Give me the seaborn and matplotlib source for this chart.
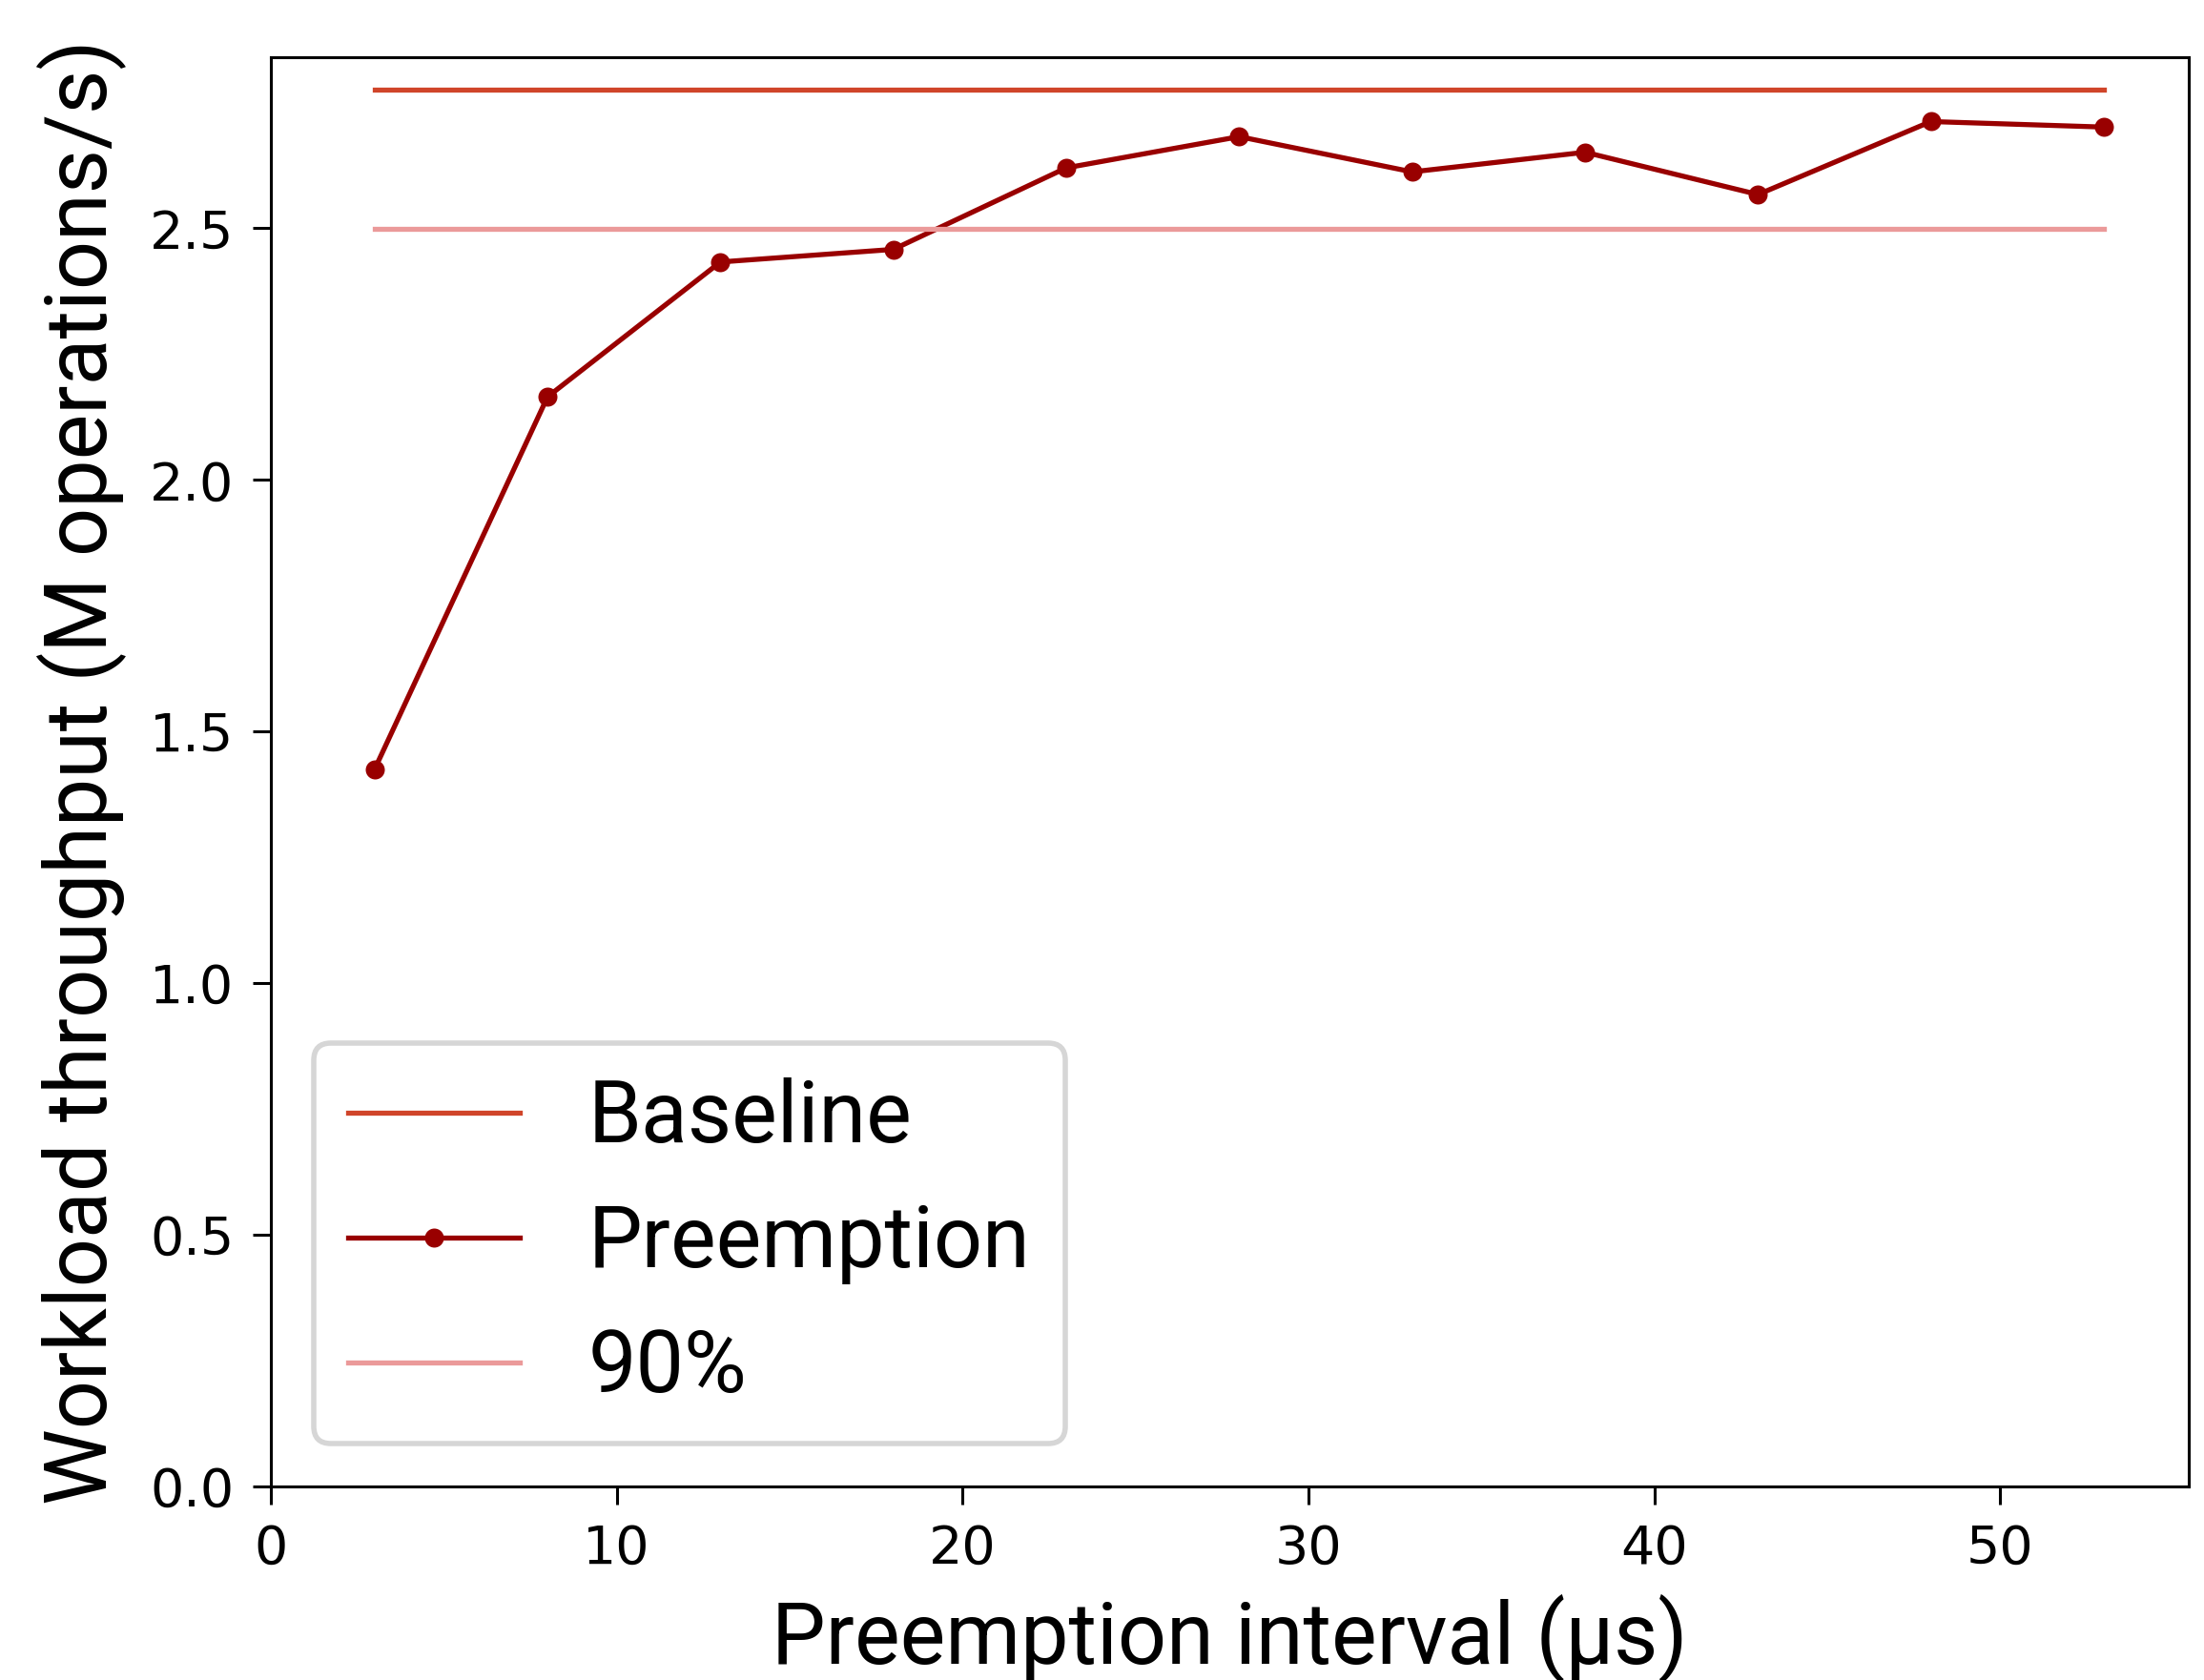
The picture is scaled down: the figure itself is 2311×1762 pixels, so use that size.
import numpy as np
import pandas as pd
import matplotlib
matplotlib.use("Agg")
import matplotlib.pyplot as plt
import seaborn as sns

# data
intervals = [3, 8, 13, 18, 23, 28, 33, 38, 43, 48, 53]
throughput = [1.425, 2.165, 2.433, 2.458, 2.620, 2.682, 2.612, 2.651, 2.567, 2.712, 2.701]
baseline = 2.776
ratio = 0.9

c_base = "#d0452a"
c_pre = "#990000"
c_90 = "#eb9a9a"

plt.rcParams["font.family"] = ["DejaVu Sans"]
plt.rcParams["axes.linewidth"] = 0.55
plt.rcParams["xtick.major.width"] = 0.55
plt.rcParams["ytick.major.width"] = 0.55

DPI = 400
fig = plt.figure(figsize=(2311 / DPI, 1762 / DPI), dpi=DPI)
ax = fig.add_axes([0.1229, 0.1152, 0.993 - 0.1229, 0.966 - 0.1152])

df = pd.DataFrame({"interval": intervals, "throughput": throughput})
ref = pd.DataFrame({
    "interval": [intervals[0], intervals[-1]],
    "base": [baseline, baseline],
    "ninety": [baseline * ratio, baseline * ratio],
})

sns.lineplot(data=ref, x="interval", y="base", ax=ax, color=c_base, lw=0.95, label="Baseline")
sns.lineplot(data=df, x="interval", y="throughput", ax=ax, color=c_pre, lw=0.95,
             marker="o", markersize=3.6, markeredgewidth=0, label="Preemption")
sns.lineplot(data=ref, x="interval", y="ninety", ax=ax, color=c_90, lw=0.95, label="90%")

ax.set_xlim(0, 55.45)
ax.set_ylim(0, 2.84)
ax.set_xticks([0, 10, 20, 30, 40, 50])
ax.set_yticks([0.0, 0.5, 1.0, 1.5, 2.0, 2.5])
ax.tick_params(labelsize=10)

ax.set_xlabel("Preemption interval (μs)", fontsize=16.2, family="Roboto", labelpad=3.5)
ax.set_ylabel("Workload throughput (M operations/s)", fontsize=16.2, family="Roboto", labelpad=4.5)

ax.legend(loc="lower left", prop={"family": "Roboto", "size": 16.2})

fig.savefig("out.png", dpi=DPI)
